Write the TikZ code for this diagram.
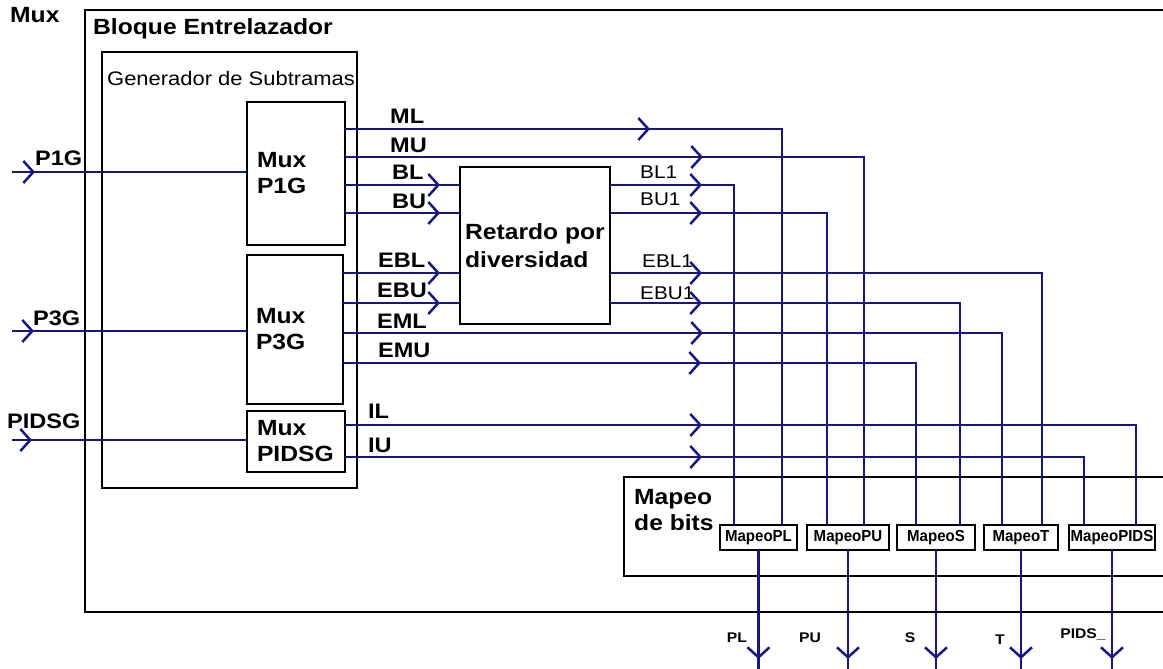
\documentclass[tikz,border=0pt]{standalone}
\usepackage{fontspec}
\setmainfont{Liberation Sans}[FakeStretch=1.12]
\newfontfamily\narrowfam{Liberation Sans}[FakeStretch=0.94]
\usetikzlibrary{arrows.meta,
                decorations.markings,
                positioning}
\definecolor{wireblue}{RGB}{22,22,125}

\newcommand{\lblfont}{\fontsize{22}{26}\selectfont\bfseries}
\newcommand{\retfont}{\fontsize{22}{28}\selectfont\bfseries}
\newcommand{\genfont}{\fontsize{19.6}{22}\selectfont}
\newcommand{\sigfont}{\fontsize{21}{24}\selectfont\bfseries}
\newcommand{\delfont}{\fontsize{18.5}{21}\selectfont}
\newcommand{\mapfont}{\narrowfam\fontsize{16}{18}\selectfont\bfseries}
\newcommand{\outfont}{\fontsize{14}{16}\selectfont\bfseries}

\tikzset{
  blk/.style={draw, line width=2.5pt, outer sep=0pt, inner sep=0pt, anchor=north west},
  muxbox/.style={blk, align=left, text width=78pt, inner xsep=9pt, inner ysep=0pt, font=\lblfont},
  mapbox/.style={blk, fill=white, minimum height=25pt, font=\mapfont},
  title/.style={anchor=base west, inner sep=0pt, font=\lblfont},
  sig/.style={anchor=base west, inner sep=0pt, font=\sigfont},
  delsig/.style={anchor=base west, inner sep=0pt, font=\delfont},
  outsig/.style={anchor=base, inner sep=0pt, font=\outfont},
  wire/.style={wireblue, line width=2.5pt},
  arrowat/.style={postaction={decorate, decoration={markings,
      mark=at position #1 with {\arrow{Straight Barb[length=10pt,width=22pt]}}}}}
}

\begin{document}
\begin{tikzpicture}[x=1pt, y=-1pt]
  % Page frame
  \useasboundingbox (0,0) rectangle (1163,669);

  % Outer blocks
  \node[blk, minimum width=1090pt, minimum height=602pt] (bloque) at (85,10) {};
  \node[title] (muxlbl) at (10,23) {Mux};
  \node[title] (bloquelbl) at (93,35) {Bloque Entrelazador};
  \node[blk, minimum width=255pt, minimum height=436pt] (gen) at (102,52) {};
  \node[anchor=base west, inner sep=0pt, font=\genfont] (genlbl) at (107,85) {Generador de Subtramas};

  % Multiplexers and delay block
  \node[muxbox, minimum width=98pt, minimum height=143pt] (mpone) at (247,102) {Mux\\P1G};
  \node[muxbox, minimum width=96pt, minimum height=149pt] (mpthree) at (247,255) {Mux\\P3G};
  \node[muxbox, minimum width=98pt, minimum height=61pt] (mpids) at (247,411) {Mux\\PIDSG};
  \node[blk, minimum width=150pt, minimum height=157pt, align=left, font=\retfont] (ret) at (460,167) {Retardo por\\diversidad};

  % Bit mapping block
  \node[blk, minimum width=551pt, minimum height=99pt] (mapeo) at (624,477) {};
  \node[anchor=north west, inner sep=0pt, align=left, font=\lblfont] (mapeolbl) at (634,489) {Mapeo\\de bits};
  \node[mapbox, minimum width=77pt] (mappl) at (720,525) {MapeoPL};
  \node[mapbox, minimum width=82pt] (mappu) at (807,525) {MapeoPU};
  \node[mapbox, minimum width=78pt] (maps) at (897,525) {MapeoS};
  \node[mapbox, minimum width=74pt] (mapt) at (984,525) {MapeoT};
  \node[mapbox, minimum width=86pt] (mappids) at (1069,525) {MapeoPIDS};

  % Inputs
  \coordinate (inone) at (12,172);
  \coordinate (inthree) at (12,331);
  \coordinate (inpids) at (12,440);
  \draw[wire, arrowat=23pt] (inone) -- (inone -| mpone.west);
  \draw[wire, arrowat=22pt] (inthree) -- (inthree -| mpthree.west);
  \draw[wire, arrowat=20pt] (inpids) -- (inpids -| mpids.west);
  \node[sig] (lblpone) at (35,165) {P1G};
  \node[sig] (lblpthree) at (33,325) {P3G};
  \node[sig] (lblpids) at (7,428) {PIDSG};

  % Wires out of Mux P1G
  \draw[wire, arrowat=305pt] (mpone.east |- 0,129) -| (mappl.north -| 782,0);
  \draw[wire, arrowat=358pt] (mpone.east |- 0,157) -| (mappu.north -| 864,0);
  \draw[wire, arrowat=95pt] (mpone.east |- 0,185) -- (ret.west |- 0,185);
  \draw[wire, arrowat=95pt] (mpone.east |- 0,213) -- (ret.west |- 0,213);

  % Wires out of Mux P3G
  \draw[wire, arrowat=97pt] (mpthree.east |- 0,273) -- (ret.west |- 0,273);
  \draw[wire, arrowat=97pt] (mpthree.east |- 0,303) -- (ret.west |- 0,303);
  \draw[wire, arrowat=360pt] (mpthree.east |- 0,333) -| (mapt.north -| 1002,0);
  \draw[wire, arrowat=358pt] (mpthree.east |- 0,363) -| (maps.north -| 916,0);

  % Wires out of the delay block
  \draw[wire, arrowat=92pt] (ret.east |- 0,185) -| (mappl.north -| 734,0);
  \draw[wire, arrowat=92pt] (ret.east |- 0,213) -| (mappu.north -| 827,0);
  \draw[wire, arrowat=92pt] (ret.east |- 0,273) -| (mapt.north -| 1042,0);
  \draw[wire, arrowat=92pt] (ret.east |- 0,303) -| (maps.north -| 960,0);

  % Wires out of Mux PIDSG
  \draw[wire, arrowat=357pt] (mpids.east |- 0,425) -| (mappids.north -| 1136,0);
  \draw[wire, arrowat=357pt] (mpids.east |- 0,457) -| (mappids.north -| 1084,0);

  % Wire labels
  \node[sig] (lblml) at (390,124) {ML};
  \node[sig] (lblmu) at (390,152) {MU};
  \node[sig] (lblbl) at (392,179) {BL};
  \node[sig] (lblbu) at (392,208) {BU};
  \node[sig] (lblebl) at (378,267) {EBL};
  \node[sig] (lblebu) at (377,297) {EBU};
  \node[sig] (lbleml) at (377,328) {EML};
  \node[sig] (lblemu) at (378,357) {EMU};
  \node[sig] (lblil) at (368,418) {IL};
  \node[sig] (lbliu) at (368,452) {IU};
  \node[delsig] (lblblone) at (640,178) {BL1};
  \node[delsig] (lblbuone) at (640,205) {BU1};
  \node[delsig] (lbleblone) at (642,267) {EBL1};
  \node[delsig] (lblebuone) at (640,299) {EBU1};

  % Outputs
  \foreach \mapblk in {mappl, mappu, maps, mapt, mappids}
    \draw[wire, arrowat=109pt] (\mapblk.south) -- (\mapblk.south |- 0,672);
  \node[outsig] (lblpl) at (737,642) {PL};
  \node[outsig] (lblpu) at (810,642) {PU};
  \node[outsig] (lbls) at (910,642) {S};
  \node[outsig] (lblt) at (1000,644) {T};
  \node[outsig] (lblpidsout) at (1083,638) {PIDS\_};
\end{tikzpicture}
\end{document}
